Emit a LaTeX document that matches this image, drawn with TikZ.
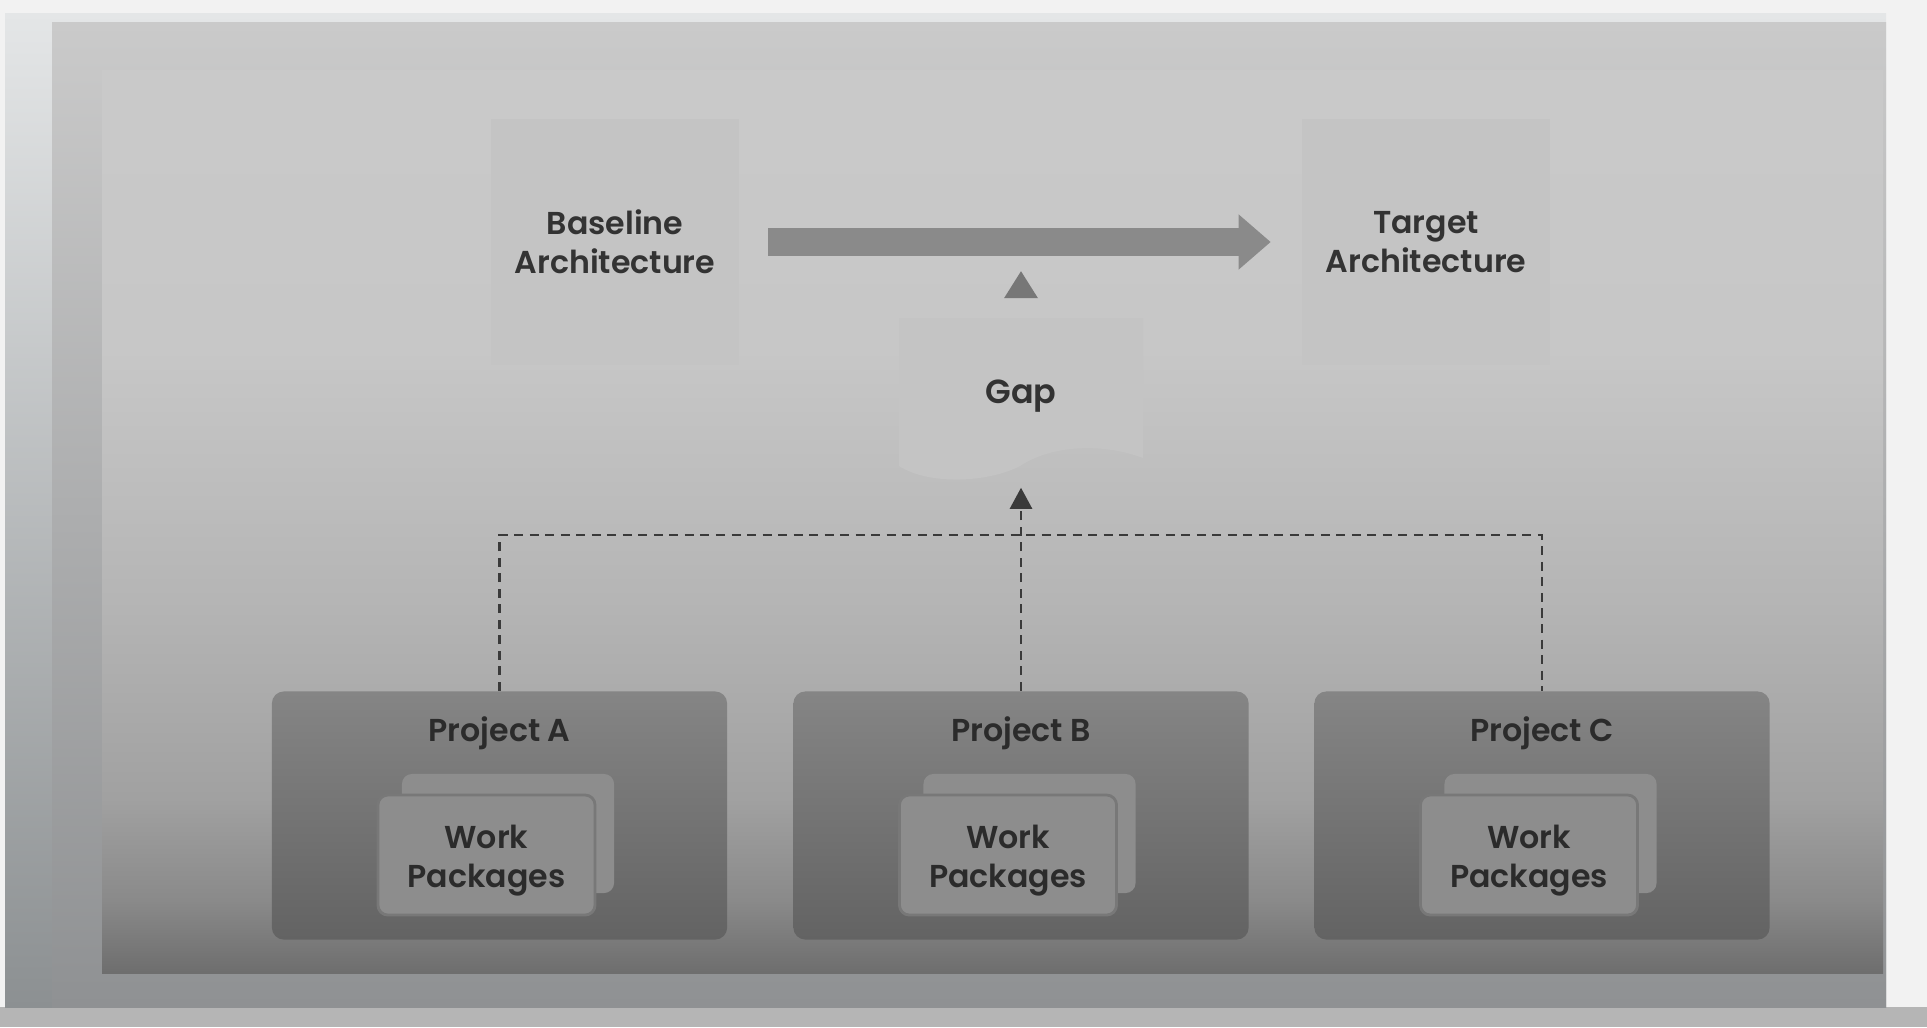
\documentclass[tikz,border=0pt]{standalone}
\usepackage{fontspec}
\setmainfont{Poppins}[BoldFont={Poppins SemiBold}]
\usetikzlibrary{arrows.meta,positioning}
\definecolor{pagegray}{HTML}{F2F2F2}
\definecolor{edgegray}{HTML}{B5B5B5}
\definecolor{rimtop}{HTML}{E4E6E7}
\definecolor{rimbot}{HTML}{8C9092}
\definecolor{panelgray}{HTML}{CACACA}
\definecolor{panelbot}{HTML}{8F9193}
\definecolor{boxgray}{HTML}{C4C4C4}
\definecolor{arrowgray}{HTML}{8A8A8A}
\definecolor{tipgray}{HTML}{777777}
\definecolor{projtop}{HTML}{858585}
\definecolor{projbot}{HTML}{636363}
\definecolor{cardgray}{HTML}{8D8D8D}
\definecolor{textgray}{HTML}{333333}
\definecolor{dashgray}{HTML}{3A3A3A}
\pgfdeclareverticalshading{slidefade}{100bp}{color(0bp)=(black!57); color(25bp)=(black!57);
  color(29bp)=(black!46); color(34.6bp)=(black!37); color(45.7bp)=(black!29);
  color(59.5bp)=(black!22); color(75bp)=(black!21); color(100bp)=(black!21)}
\newcommand\diagfont{\fontsize{9}{11.2}\selectfont\bfseries}
\begin{document}
\begin{tikzpicture}[x=0.01cm, y=-0.01cm,
    archbox/.style={fill=boxgray, minimum width=2.47cm, minimum height=2.45cm, align=center, font=\diagfont, text=textgray},
    projbox/.style={top color=projtop, bottom color=projbot, rounded corners=0.12cm, minimum width=4.55cm, minimum height=2.48cm},
    projtitle/.style={font=\diagfont, text=textgray!85!black},
    backcard/.style={fill=cardgray, rounded corners=0.1cm, minimum width=2.12cm, minimum height=1.19cm},
    frontcard/.style={fill=cardgray, draw=projtop!90!black, line width=0.8pt, rounded corners=0.1cm, minimum width=2.17cm, minimum height=1.2cm, text height=0.74cm, align=center, font=\diagfont, text=textgray!85!black},
    dashline/.style={draw=dashgray, line width=0.7pt, dash pattern=on 0.09cm off 0.065cm}]
    \useasboundingbox (0,0) rectangle (1927,1027);

    % screen and slide panel
    \fill[pagegray] (0,0) rectangle (1927,1027);
    \fill[edgegray] (0,1007) rectangle (1927,1027);
    \shade[top color=rimtop, bottom color=rimbot] (5,13) rectangle (1886,1007);
    \shade[top color=panelgray, bottom color=panelbot] (52,22) rectangle (1886,1007);
    \shade[shading=slidefade] (102,70) rectangle (1883,973);

    % architectures
    \node[archbox] (base) at (615,242) {Baseline\\Architecture};
    \node[archbox] (target) at (1426,242) {Target\\Architecture};
    \draw[arrowgray, line width=0.28cm, -{Triangle[length=0.32cm, width=0.53cm]}] ([xshift=0.29cm]base.east) -- ([xshift=-0.31cm]target.west);

    % gap document
    \fill[boxgray] (899,318) -- (1143,318) -- (1143,458) .. controls (1100,442) and (1050,446) .. (1020,466) .. controls (990,482) and (930,486) .. (899,466) -- cycle;
    \node[minimum width=2.44cm, minimum height=1.48cm, font=\fontsize{9.5}{12}\selectfont\bfseries, text=textgray] (gap) at (1021,396) {Gap};
    \fill[tipgray] ([xshift=-0.17cm, yshift=0.23cm]gap.north) -- ([xshift=0.17cm, yshift=0.23cm]gap.north) -- ([yshift=0.5cm]gap.north) -- cycle;

    % projects
    \node[projbox] (pa) at (499.5,815.5) {};
    \node[projbox] (pb) at (1021,815.5) {};
    \node[projbox] (pc) at (1542,815.5) {};
    \node[projtitle] (pat) at ([yshift=-0.43cm]pa.north) {Project A};
    \node[projtitle] (pbt) at ([yshift=-0.43cm]pb.north) {Project B};
    \node[projtitle] (pct) at ([yshift=-0.43cm]pc.north) {Project C};
    \node[backcard] (wab) at ([xshift=0.085cm, yshift=-0.18cm]pa.center) {};
    \node[backcard] (wbb) at ([xshift=0.085cm, yshift=-0.18cm]pb.center) {};
    \node[backcard] (wcb) at ([xshift=0.085cm, yshift=-0.18cm]pc.center) {};
    \node[frontcard] (wa) at ([xshift=-0.13cm, yshift=-0.395cm]pa.center) {Work\\Packages};
    \node[frontcard] (wb) at ([xshift=-0.13cm, yshift=-0.395cm]pb.center) {Work\\Packages};
    \node[frontcard] (wc) at ([xshift=-0.13cm, yshift=-0.395cm]pc.center) {Work\\Packages};

    % contributions to the gap
    \coordinate (hub) at (1021,535);
    \draw[dashline] (pa.north) -- (pa.north |- hub) -- (pc.north |- hub) -- (pc.north);
    \draw[dashline, -{Triangle[length=0.21cm, width=0.22cm]}] (pb.north) -- ([yshift=-0.17cm]gap.south);
\end{tikzpicture}
\end{document}
